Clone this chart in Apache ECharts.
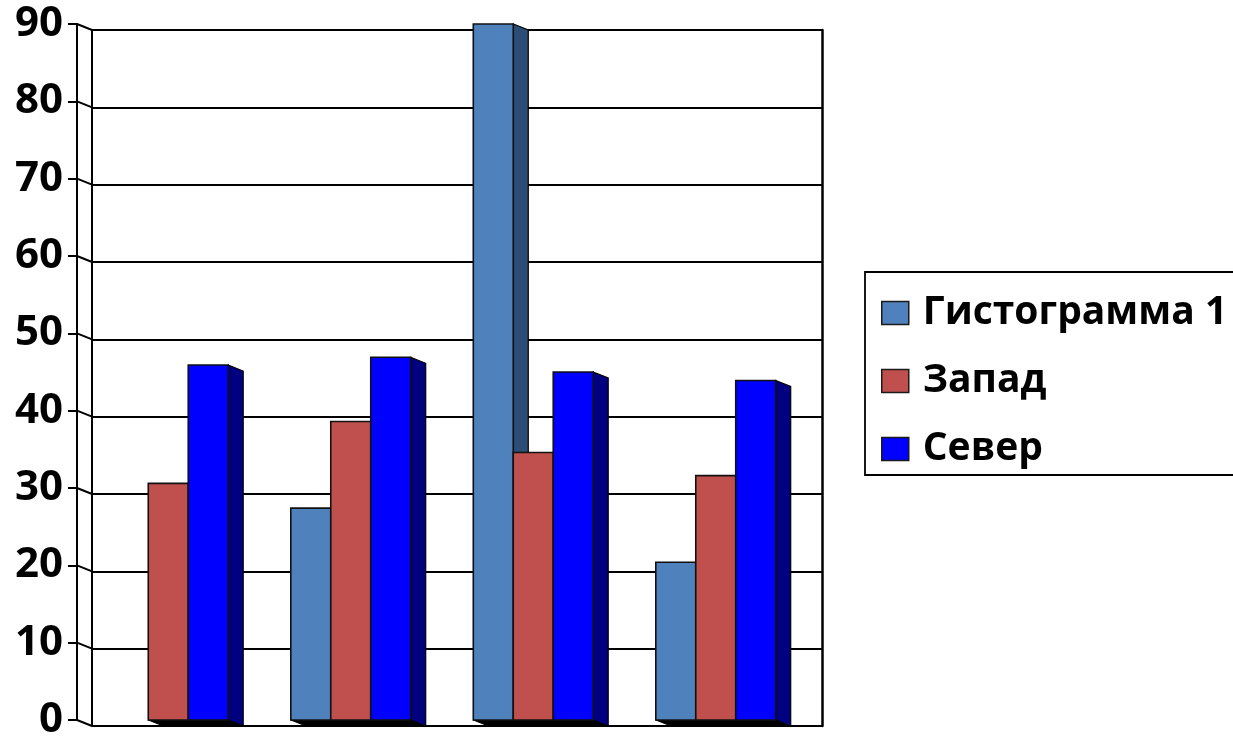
<!DOCTYPE html>
<html>
<head>
<meta charset="utf-8">
<script src="https://cdn.jsdelivr.net/npm/echarts@6/dist/echarts.min.js"></script>
<style>
  html, body { margin: 0; padding: 0; background: #fff; }
  #chart { width: 1233px; height: 742px; }
</style>
</head>
<body>
<div id="chart"></div>
<script>
// Data
const categories = ['Категория 1', 'Категория 2', 'Категория 3', 'Категория 4'];
const seriesNames = ['Гистограмма 1', 'Запад', 'Север'];
const histogram1 = [null, 27.4, 90, 20.4];
const west = [30.6, 38.6, 34.6, 31.6];
const north = [45.9, 46.9, 45, 43.9];
const yTicks = [0, 10, 20, 30, 40, 50, 60, 70, 80, 90];

// Styling
const FONT = '"Open Sans", "Noto Sans", sans-serif';
const frontColors = ['#4f81bd', '#c0504d', '#0000ff'];
const sideColors = ['#2c4d75', '#8c3836', '#000080'];
const DEPTH = [15, 6];          // offset of the back wall from the front plane
const BAR_RATIO = 0.219;        // bar width as a share of the category band

function barRenderer(slot) {
  return function (params, api) {
    const cat = api.value(0);
    const val = api.value(1);
    if (val == null || isNaN(val)) return;
    const base = api.coord([cat, 0]);
    const top = api.coord([cat, val]);
    const band = api.size([1, 0])[0];
    const w = band * BAR_RATIO;
    const x0 = base[0] - 1.5 * w + slot * w;
    const x1 = x0 + w;
    const yb = base[1];
    const yt = top[1];
    const dx = DEPTH[0], dy = DEPTH[1];
    return {
      type: 'group',
      children: [
        {
          type: 'polygon',
          shape: { points: [[x0, yb], [x1, yb], [x1 + dx, yb + dy], [x0 + dx, yb + dy]] },
          style: { fill: '#000', stroke: '#000', lineWidth: 1 }
        },
        {
          type: 'polygon',
          shape: { points: [[x1, yt], [x1 + dx, yt + dy], [x1 + dx, yb + dy], [x1, yb]] },
          style: { fill: sideColors[slot], stroke: '#000', lineWidth: 1.2 }
        },
        {
          type: 'rect',
          shape: { x: x0, y: yt, width: w, height: yb - yt },
          style: { fill: frontColors[slot], stroke: '#111', lineWidth: 1.6 }
        }
      ]
    };
  };
}

function wallRenderer(params, api) {
  const x = params.coordSys.x;
  const y = api.coord([0, api.value(1)])[1];
  return {
    type: 'line',
    shape: { x1: x, y1: y, x2: x + DEPTH[0], y2: y + DEPTH[1] },
    style: { stroke: '#000', lineWidth: 2 }
  };
}

const valueSets = [histogram1, west, north];

const chart = echarts.init(document.getElementById('chart'), null, { renderer: 'canvas' });

chart.setOption({
  animation: false,
  backgroundColor: '#fff',
  grid: [
    { left: 77, right: 426, top: 24, bottom: 22, containLabel: false },
    { left: 92, right: 411, top: 30, bottom: 16, containLabel: false }
  ],
  xAxis: [
    { type: 'category', data: categories, gridIndex: 0, show: false },
    { type: 'category', data: categories, gridIndex: 1, show: false }
  ],
  yAxis: [
    {
      type: 'value', gridIndex: 0, min: 0, max: 90, interval: 10,
      axisLine: { show: true, lineStyle: { color: '#000', width: 2 } },
      axisTick: { show: true, length: 9, lineStyle: { color: '#000', width: 2 } },
      axisLabel: {
        color: '#000', fontFamily: FONT, fontWeight: 'bold', fontSize: 42, margin: 14
      },
      splitLine: { show: false }
    },
    {
      type: 'value', gridIndex: 1, min: 0, max: 90, interval: 10,
      axisLine: { show: true, lineStyle: { color: '#000', width: 2 } },
      axisTick: { show: false },
      axisLabel: { show: false },
      splitLine: { show: true, lineStyle: { color: '#000', width: 2 } }
    },
    {
      type: 'value', gridIndex: 1, position: 'right', min: 0, max: 90, interval: 10,
      axisLine: { show: true, lineStyle: { color: '#000', width: 2.5 } },
      axisTick: { show: false },
      axisLabel: { show: false },
      splitLine: { show: false }
    }
  ],
  legend: {
    orient: 'vertical',
    left: 865,
    top: 272,
    data: seriesNames,
    icon: 'rect',
    itemWidth: 27,
    itemHeight: 23,
    itemGap: 28,
    padding: [21, 120, 6, 16],
    borderColor: '#000',
    borderWidth: 1.8,
    itemStyle: { borderColor: '#1a1a1a', borderWidth: 1.5 },
    textStyle: {
      color: '#000', fontFamily: FONT, fontWeight: 'bold', fontSize: 39,
      lineHeight: 40, padding: [0, 0, 0, 9]
    }
  },
  series: [
    {
      type: 'custom',
      name: 'wall',
      xAxisIndex: 0, yAxisIndex: 0,
      data: yTicks.map(v => [0, v]),
      encode: { x: 0, y: 1 },
      renderItem: wallRenderer,
      silent: true,
      z: 1
    }
  ].concat(valueSets.map((vals, i) => ({
    type: 'custom',
    name: seriesNames[i],
    xAxisIndex: 0, yAxisIndex: 0,
    itemStyle: { color: frontColors[i] },
    data: vals.map((v, k) => [k, v == null ? '-' : v]),
    encode: { x: 0, y: 1 },
    renderItem: barRenderer(i),
    z: 3
  })))
});
</script>
</body>
</html>
